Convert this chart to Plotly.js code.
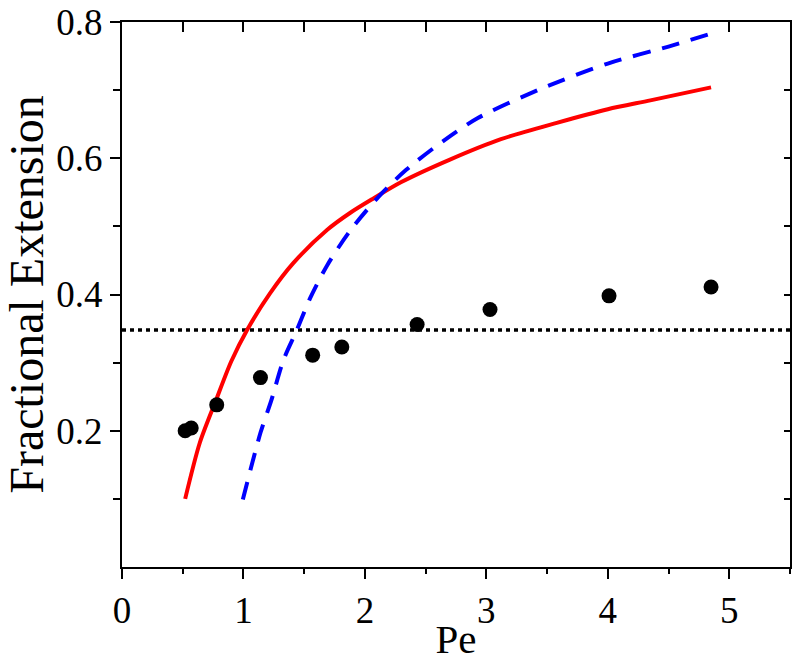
<!DOCTYPE html>
<html>
<head>
<meta charset="utf-8">
<script src="https://cdn.plot.ly/plotly-3.0.1.min.js"></script>
<style>
  html, body { margin: 0; padding: 0; background: #fff; }
  #chart { width: 800px; height: 662px; }
</style>
</head>
<body>
<div id="chart"></div>
<script>
// measured points (black dots)
const dotPe = [0.52, 0.57, 0.78, 1.14, 1.57, 1.81, 2.43, 3.03, 4.01, 4.85];
const dotExt = [0.200, 0.204, 0.238, 0.278, 0.311, 0.323, 0.356, 0.378, 0.398, 0.411];

// red solid curve
const redPe = [0.52, 0.64, 0.77, 0.90, 1.03, 1.22, 1.41, 1.69, 1.88, 2.07, 2.30, 2.70, 3.12, 3.58, 4.00, 4.35, 4.85];
const redExt = [0.100, 0.182, 0.243, 0.302, 0.348, 0.402, 0.446, 0.495, 0.520, 0.541, 0.565, 0.598, 0.628, 0.652, 0.672, 0.685, 0.704];

// blue dashed curve
const bluePe = [0.995, 1.14, 1.23, 1.33, 1.44, 1.55, 1.69, 1.88, 2.11, 2.34, 2.65, 2.93, 3.45, 4.00, 4.54, 4.85];
const blueExt = [0.099, 0.197, 0.245, 0.304, 0.348, 0.395, 0.443, 0.494, 0.543, 0.583, 0.626, 0.659, 0.702, 0.739, 0.766, 0.783];

// horizontal dotted reference
const refExt = 0.348;
const xRange = [0, 5.5];
const yRange = [0, 0.8];

const serif = "'Liberation Serif', 'Times New Roman', Times, serif";

const traces = [
    {
        x: xRange, y: [refExt, refExt],
        type: 'scatter', mode: 'lines',
        line: { color: '#000', width: 3.5, dash: '4px,4px' },
        hoverinfo: 'skip'
    },
    {
        x: redPe, y: redExt,
        type: 'scatter', mode: 'lines',
        line: { color: '#ff0000', width: 4, shape: 'spline', smoothing: 0.8 }
    },
    {
        x: bluePe, y: blueExt,
        type: 'scatter', mode: 'lines',
        line: { color: '#0000ff', width: 4, shape: 'spline', smoothing: 0.8, dash: '18px,12px' }
    },
    {
        x: dotPe, y: dotExt,
        type: 'scatter', mode: 'markers',
        marker: { color: '#000', size: 15 }
    },
    // empty trace to hold the mirrored top/right axes
    { x: [], y: [], xaxis: 'x2', yaxis: 'y2', type: 'scatter', mode: 'markers' }
];

const layout = {
    width: 800,
    height: 662,
    margin: { l: 122, r: 10, t: 22, b: 95 },
    paper_bgcolor: '#fff',
    plot_bgcolor: '#fff',
    showlegend: false,
    font: { family: serif, color: '#000' },
    xaxis: {
        range: xRange,
        tickvals: [0, 1, 2, 3, 4, 5],
        ticks: 'outside', ticklen: 10, tickwidth: 2, tickcolor: '#000',
        minor: { tickvals: [0.5, 1.5, 2.5, 3.5, 4.5, 5.5], ticks: 'outside', ticklen: 5, tickwidth: 2, tickcolor: '#000' },
        showline: true, linewidth: 2, linecolor: '#000',
        showgrid: false, zeroline: false,
        tickfont: { size: 37, family: serif },
        title: { text: 'Pe', font: { size: 41, family: serif }, standoff: 2 }
    },
    yaxis: {
        range: yRange,
        tickvals: [0.2, 0.4, 0.6, 0.8],
        ticktext: ['0.2', '0.4', '0.6', '0.8'],
        ticks: 'outside', ticklen: 10, tickwidth: 2, tickcolor: '#000',
        minor: { tickvals: [0.1, 0.3, 0.5, 0.7], ticks: 'outside', ticklen: 7, tickwidth: 2, tickcolor: '#000' },
        showline: true, linewidth: 2, linecolor: '#000',
        showgrid: false, zeroline: false,
        tickfont: { size: 37, family: serif },
        title: { text: 'Fractional Extension', font: { size: 48, family: serif }, standoff: 8 }
    },
    xaxis2: {
        range: xRange, overlaying: 'x', side: 'top', anchor: 'y2',
        tickvals: [0.5, 1, 1.5, 2, 2.5, 3, 3.5, 4, 4.5, 5],
        ticks: 'inside', ticklen: 10, tickwidth: 2, tickcolor: '#000',
        showticklabels: false,
        showline: true, linewidth: 2, linecolor: '#000',
        showgrid: false, zeroline: false
    },
    yaxis2: {
        range: yRange, overlaying: 'y', side: 'right', anchor: 'x2',
        tickvals: [0.1, 0.2, 0.3, 0.4, 0.5, 0.6, 0.7],
        ticks: 'inside', ticklen: 6, tickwidth: 2, tickcolor: '#000',
        showticklabels: false,
        showline: true, linewidth: 2, linecolor: '#000',
        showgrid: false, zeroline: false
    }
};

Plotly.newPlot('chart', traces, layout, { displayModeBar: false, staticPlot: true });
</script>
</body>
</html>
